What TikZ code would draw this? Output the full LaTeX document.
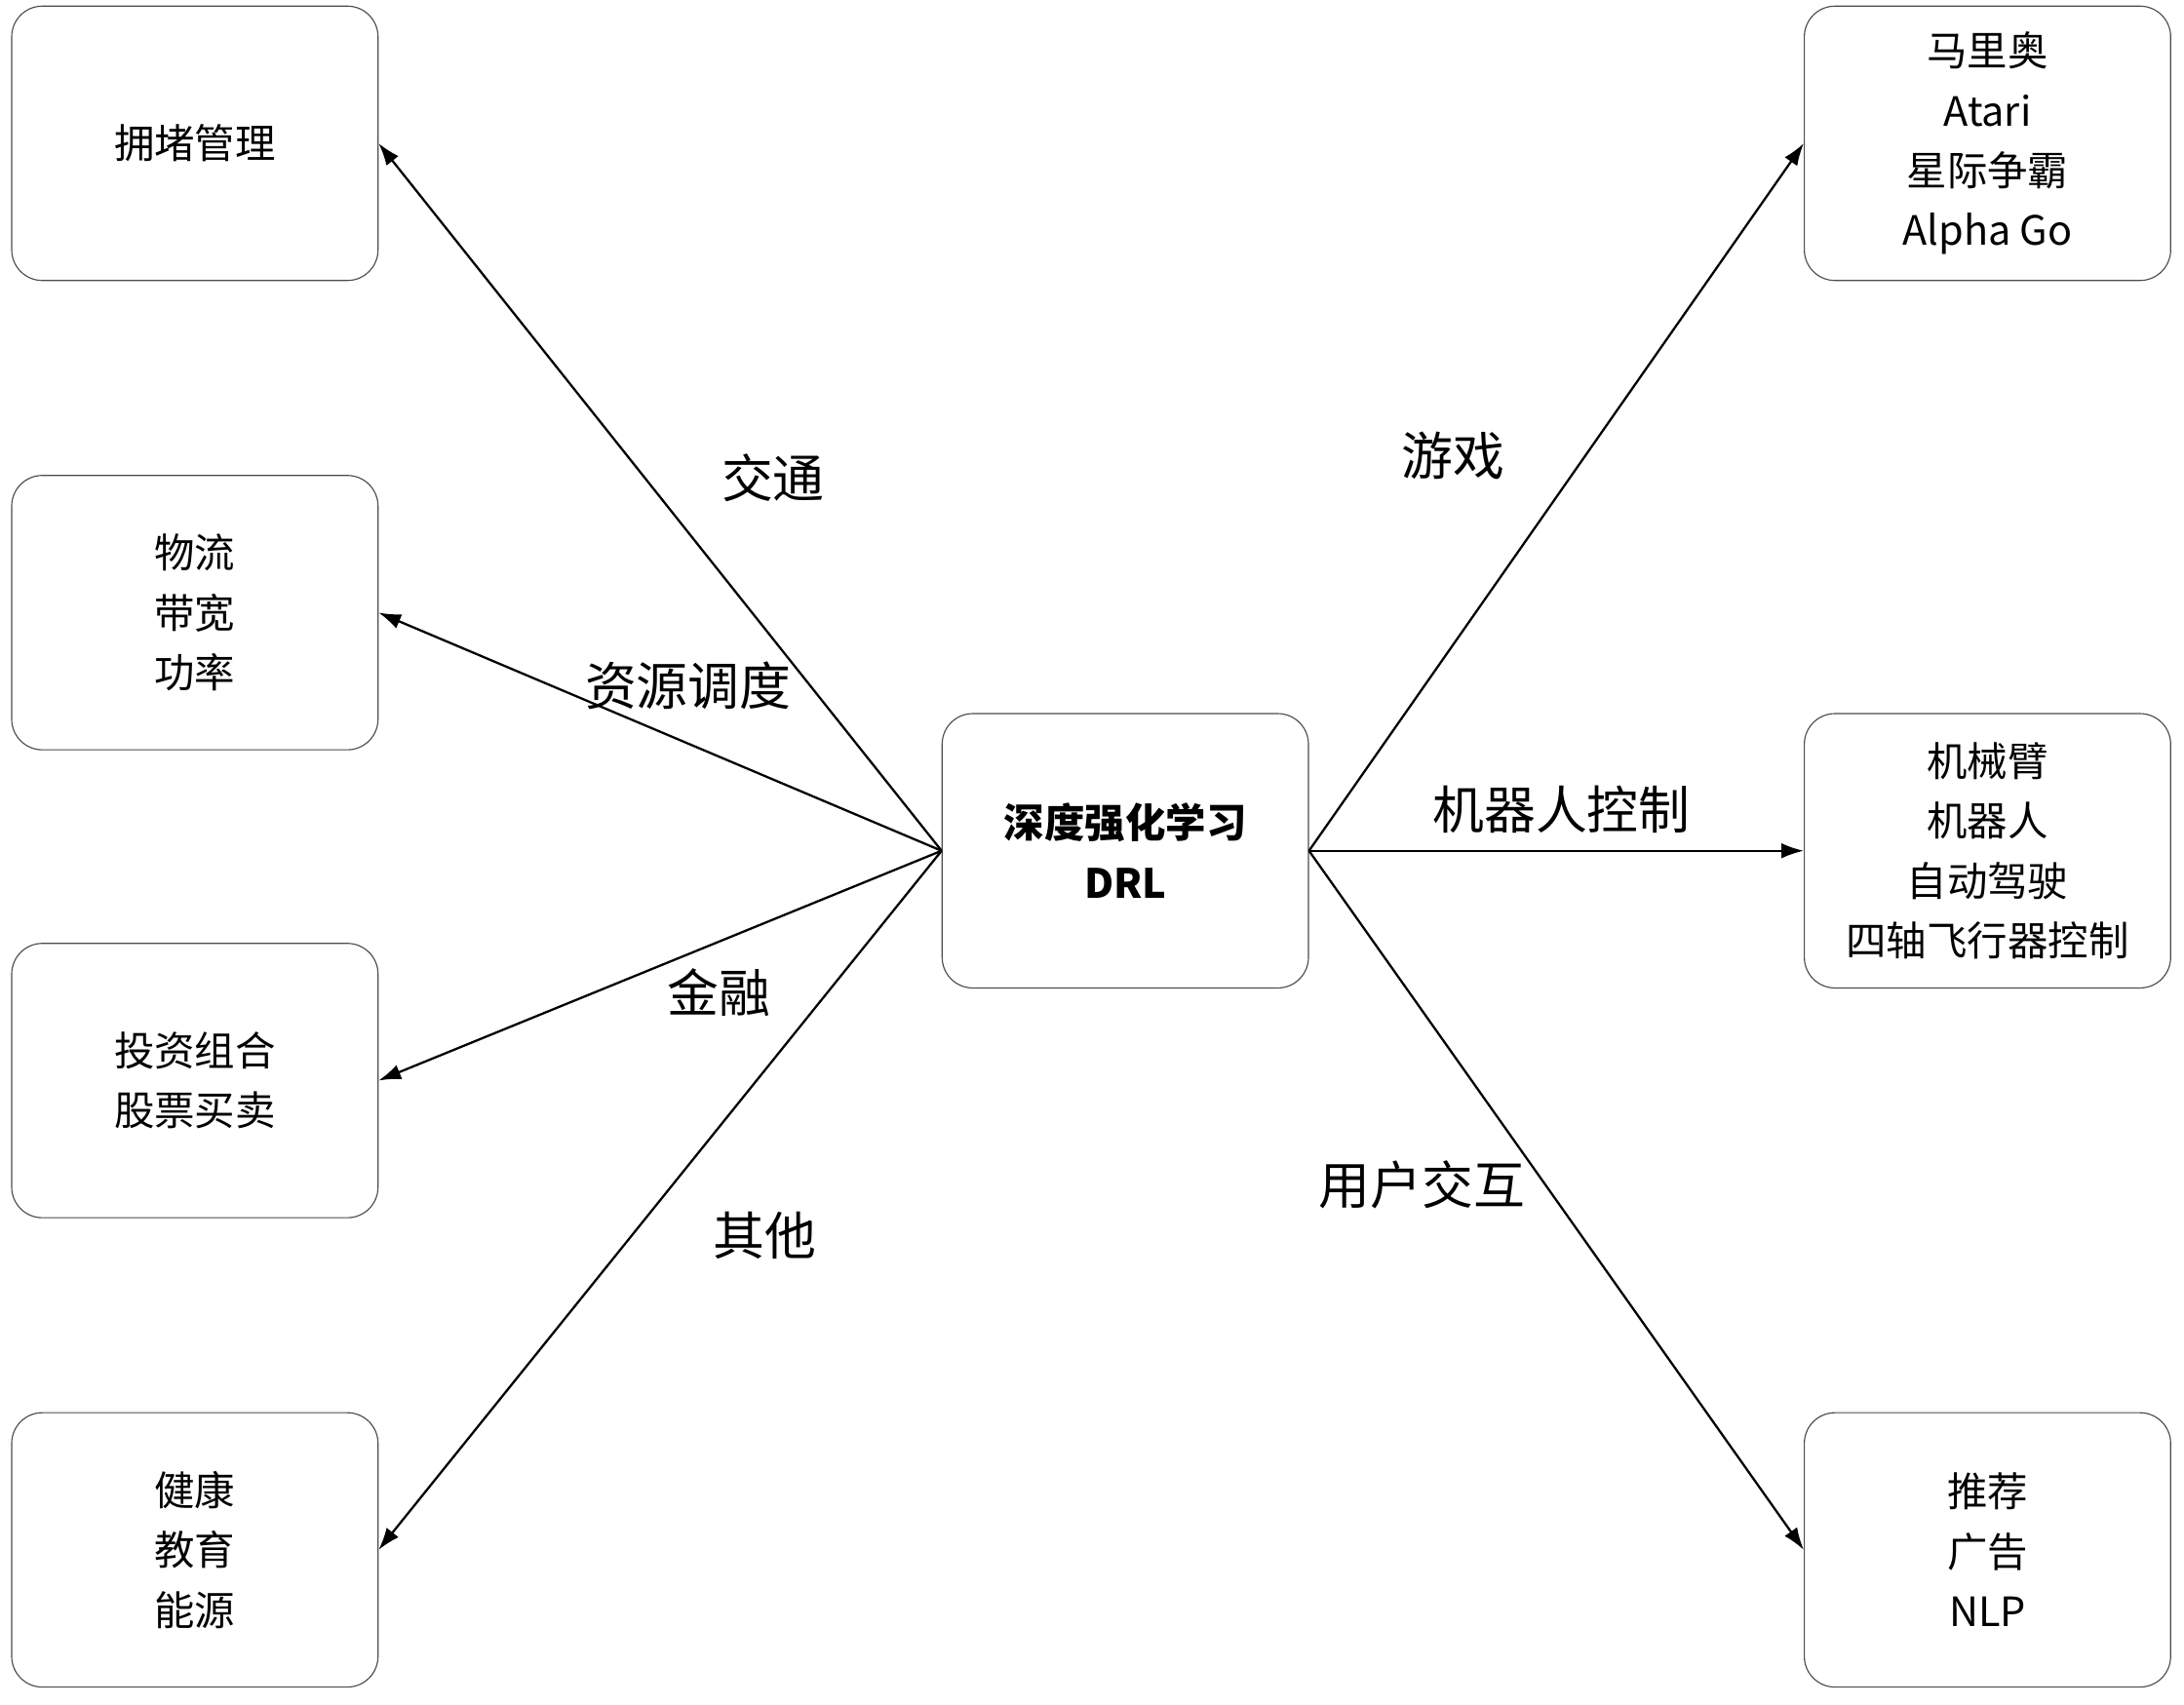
\documentclass[tikz,border=0pt]{standalone}
\usepackage{fontspec}
\setmainfont{Carlito}
\newfontfamily\cjk{Noto Sans CJK SC}
\usetikzlibrary{arrows.meta}
\begin{document}
\begin{tikzpicture}[x=1pt,y=-1pt,
  box/.style={draw=black!70,line width=0.8pt,rounded corners=22pt,minimum width=263pt,minimum height=197pt,align=center,font=\fontsize{29}{43}\selectfont\cjk,anchor=north west},
  lab/.style={font=\fontsize{37}{44}\selectfont\cjk},
  arr/.style={line width=1.6pt,-{Latex[length=16pt,width=11pt]}}]
\useasboundingbox (0,0) rectangle (1568,1224);
\node[box] (a) at (8,4) {拥堵管理};
\node[box] (b) at (8,341) {物流\\带宽\\功率};
\node[box] (c) at (8,677) {投资组合\\股票买卖};
\node[box] (d) at (8,1014) {健康\\教育\\能源};
\node[box,font=\fontsize{29}{43}\selectfont\bfseries\cjk] (m) at (676,512) {深度强化学习\\DRL};
\node[box] (e) at (1295,4) {马里奥\\Atari\\星际争霸\\Alpha Go};
\node[box] (f) at (1295,512) {机械臂\\机器人\\自动驾驶\\四轴飞行器控制};
\node[box] (g) at (1295,1014) {推荐\\广告\\NLP};
\draw[arr] (m.west) -- (a.east);
\draw[arr] (m.west) -- (b.east);
\draw[arr] (m.west) -- (c.east);
\draw[arr] (m.west) -- (d.east);
\draw[arr] (m.east) -- (e.west);
\draw[arr] (m.east) -- (f.west);
\draw[arr] (m.east) -- (g.west);
\node[lab] (l1) at (555,343) {交通};
\node[lab] (l2) at (494,492) {资源调度};
\node[lab] (l3) at (516,713) {金融};
\node[lab] (l4) at (549,887) {其他};
\node[lab] (l5) at (1043,327) {游戏};
\node[lab] (l6) at (1121,581) {机器人控制};
\node[lab] (l7) at (1021,851) {用户交互};
\end{tikzpicture}
\end{document}
